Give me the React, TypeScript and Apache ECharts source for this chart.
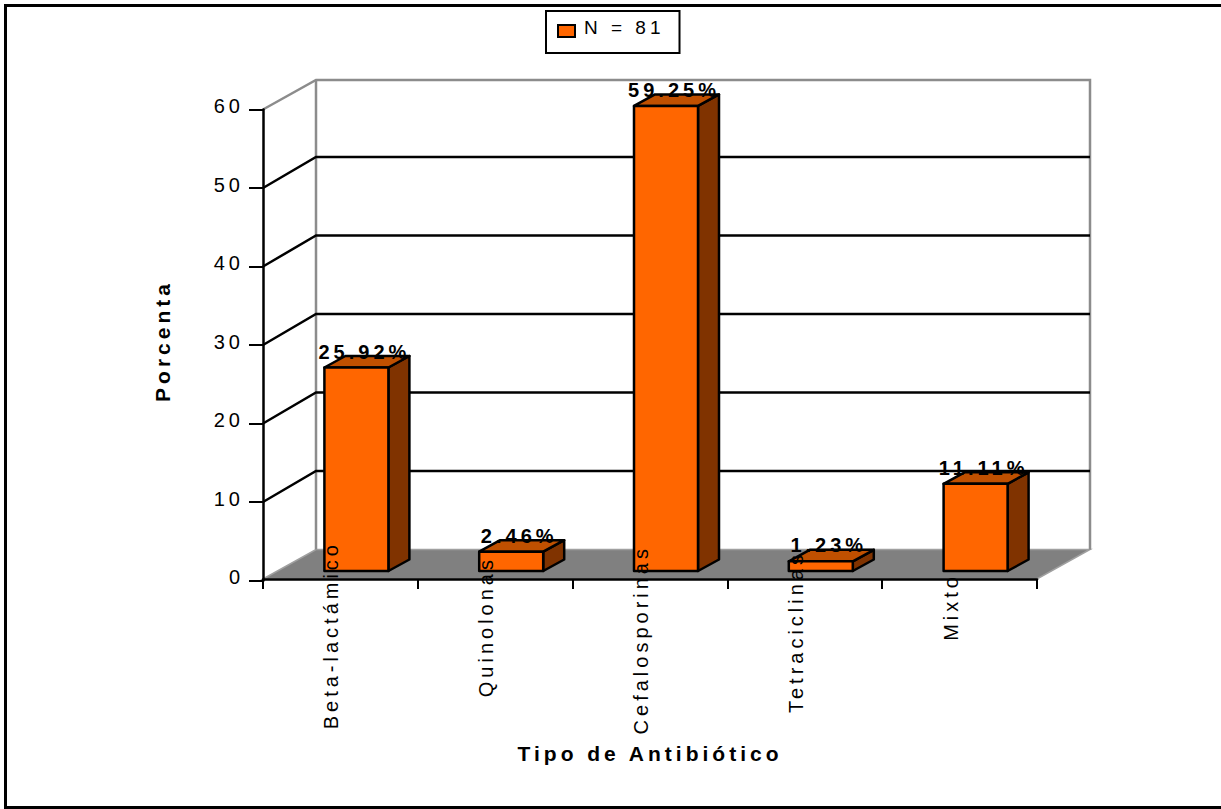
import React, { useEffect, useRef } from "react";
import * as echarts from "echarts";

const categories = ["Beta-lactámico", "Quinolonas", "Cefalosporinas", "Tetraciclinas", "Mixto"];
const percentages = [25.92, 2.46, 59.25, 1.23, 11.11];
const percentLabels = ["25.92%", "2.46%", "59.25%", "1.23%", "11.11%"];
const wallTicks = [0, 10, 20, 30, 40, 50, 60];
const legendName = "N = 81";
const xTitle = "Tipo de Antibiótico";
const yTitle = "Porcenta";

// Upper end of each rotated category label, in pixels.
const categoryLabelTops = [541, 556, 545, 551, 573];

const FONT = '"Liberation Sans", Arial, sans-serif';
const DEPTH_X = 53;
const DEPTH_Y = 31;
const TOP_EDGE_DROP = 1.5;
const AXIS_LIFT = 1.5;
const BAR_W = 64;
const BAR_DX = 21;
const BAR_DY = 11.5;
const BAR_SHIFT_X = 16;
const BAR_SHIFT_Y = 9.5;

export default function App() {
  const ref = useRef<HTMLDivElement>(null);
  useEffect(() => {
    const chart = echarts.init(ref.current!, null, { renderer: "svg" });
    chart.setOption({
      animation: false,
      backgroundColor: "#ffffff",
      textStyle: { fontFamily: FONT },
      grid: { left: 263, top: 109.5, width: 774, height: 471 },
      legend: {
        left: 546,
        top: 11,
        data: [{ name: legendName, icon: "rect", itemStyle: { color: "#ff6600", borderColor: "#000", borderWidth: 2 } }],
        itemWidth: 17,
        itemHeight: 12,
        padding: [7, 39, 15, 11],
        borderColor: "#000",
        borderWidth: 2,
        backgroundColor: "#fff",
        selectedMode: false,
        formatter: (name: string) => `{a|${name}}`,
        textStyle: {
          color: "#000",
          fontSize: 19,
          fontFamily: FONT,
          rich: { a: { color: "#000", fontSize: 19, fontFamily: FONT, padding: [0, 0, 7, 4] } },
        },
      },
      xAxis: {
        type: "category",
        data: categories,
        z: 5,
        offset: -AXIS_LIFT,
        axisLine: { lineStyle: { color: "#000", width: 2.5 } },
        axisTick: { show: true, length: 10, lineStyle: { color: "#000", width: 2 } },
        axisLabel: { show: false },
        name: xTitle,
        nameLocation: "middle",
        nameGap: 164,
        nameTextStyle: { color: "#000", fontWeight: "bold", fontSize: 21, fontFamily: FONT },
      },
      yAxis: {
        type: "value",
        min: 0,
        max: 60,
        interval: 10,
        z: 5,
        splitLine: { show: false },
        axisLine: { show: true, lineStyle: { color: "#000", width: 2.5 } },
        axisTick: { show: true, length: 14, lineStyle: { color: "#000", width: 2 } },
        axisLabel: { color: "#000", fontSize: 20, fontFamily: FONT, margin: 19, verticalAlign: "bottom", lineHeight: 7 },
        name: yTitle,
        nameLocation: "middle",
        nameGap: 90,
        nameRotate: 90,
        nameTextStyle: { color: "#000", fontWeight: "bold", fontSize: 21, fontFamily: FONT, padding: [0, 0, 0, 8] },
      },
      series: [
        {
          // Back walls, floor and wall gridlines of the 3D frame.
          name: "frame",
          type: "custom",
          z: 1,
          silent: true,
          legendHoverLink: false,
          data: [[0, 0]],
          renderItem: (params: any, api: any) => {
            const g = params.coordSys;
            const left = g.x;
            const right = g.x + g.width;
            const yOf = (v: number) => api.coord([0, v])[1];
            const y0 = yOf(0);
            const y60 = yOf(60);
            const wallTop = y60 - DEPTH_Y + TOP_EDGE_DROP;
            const children: any[] = [
              {
                type: "polygon",
                shape: {
                  points: [
                    [left, y0 - AXIS_LIFT],
                    [left + DEPTH_X, y0 - DEPTH_Y],
                    [right + DEPTH_X, y0 - DEPTH_Y],
                    [right, y0 - AXIS_LIFT],
                  ],
                },
                style: { fill: "#808080", stroke: "#a0a0a0", lineWidth: 1.5 },
              },
              {
                type: "polyline",
                shape: {
                  points: [
                    [left, y60],
                    [left + DEPTH_X, wallTop],
                    [right + DEPTH_X, wallTop],
                    [right + DEPTH_X, y0 - DEPTH_Y],
                  ],
                },
                style: { fill: "none", stroke: "#8c8c8c", lineWidth: 2.5 },
              },
              {
                type: "line",
                shape: { x1: left + DEPTH_X, y1: wallTop, x2: left + DEPTH_X, y2: y0 - DEPTH_Y },
                style: { stroke: "#8c8c8c", lineWidth: 2.5 },
              },
            ];
            wallTicks
              .filter((v) => v > 0 && v < 60)
              .forEach((v) => {
                const y = yOf(v);
                children.push({
                  type: "polyline",
                  shape: {
                    points: [[left, y], [left + DEPTH_X, y - DEPTH_Y], [right + DEPTH_X, y - DEPTH_Y]],
                  },
                  style: { fill: "none", stroke: "#000", lineWidth: 2.5 },
                });
              });
            return { type: "group", children };
          },
        },
        {
          // Extruded bars with their percentage labels.
          name: legendName,
          type: "custom",
          z: 6,
          silent: true,
          data: percentages.map((v, i) => [i, v]),
          renderItem: (params: any, api: any) => {
            const i = api.value(0);
            const v = api.value(1);
            const [cx, yTop] = api.coord([i, v]);
            const y0 = api.coord([i, 0])[1];
            const x1 = cx + BAR_SHIFT_X - BAR_W / 2;
            const x2 = x1 + BAR_W;
            const b = y0 - BAR_SHIFT_Y;
            const t = yTop - BAR_SHIFT_Y;
            const edge = { stroke: "#000", lineWidth: 2.5, lineJoin: "round" };
            return {
              type: "group",
              children: [
                {
                  type: "polygon",
                  shape: { points: [[x2, b], [x2 + BAR_DX, b - BAR_DY], [x2 + BAR_DX, t - BAR_DY], [x2, t]] },
                  style: { fill: "#803300", ...edge },
                },
                {
                  type: "polygon",
                  shape: { points: [[x1, t], [x1 + BAR_DX, t - BAR_DY], [x2 + BAR_DX, t - BAR_DY], [x2, t]] },
                  style: { fill: "#c05000", ...edge },
                },
                {
                  type: "rect",
                  shape: { x: x1, y: t, width: BAR_W, height: b - t },
                  style: { fill: "#ff6600", ...edge },
                },
                {
                  type: "text",
                  x: cx + BAR_SHIFT_X + 8,
                  y: t - 16,
                  style: {
                    text: percentLabels[i],
                    fill: "#000",
                    font: `bold 20px ${FONT}`,
                    textAlign: "center",
                    textVerticalAlign: "middle",
                  },
                },
              ],
            };
          },
        },
        {
          // Rotated category names, running upward into the plot floor.
          name: "categoryNames",
          type: "custom",
          z: 7,
          silent: true,
          data: categories.map((_, i) => [i, 0]),
          renderItem: (params: any, api: any) => {
            const i = api.value(0);
            const cx = api.coord([i, 0])[0];
            return {
              type: "text",
              x: cx - 9,
              y: categoryLabelTops[i],
              rotation: Math.PI / 2,
              style: {
                text: categories[i],
                fill: "#000",
                font: `20px ${FONT}`,
                textAlign: "right",
                textVerticalAlign: "middle",
              },
            };
          },
        },
      ],
      graphic: [
        {
          type: "rect",
          z: 0,
          silent: true,
          shape: { x: 5.5, y: 5.5, width: 1240, height: 802 },
          style: { fill: "none", stroke: "#000", lineWidth: 3 },
        },
      ],
    });
    return () => chart.dispose();
  }, []);
  return (
    <div
      ref={ref}
      style={{ position: "absolute", left: 0, top: 0, width: 1221, height: 809, letterSpacing: "4px" }}
    />
  );
}
